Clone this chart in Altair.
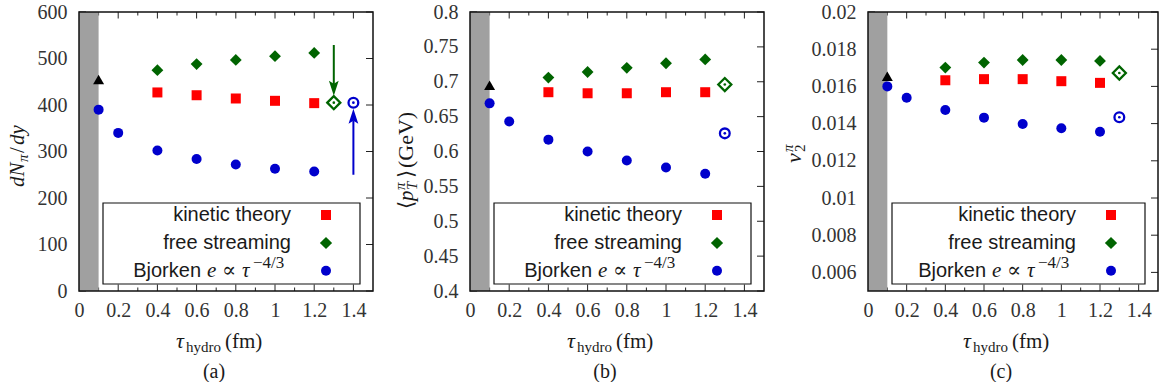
import altair as alt
import pandas as pd

# ---------------- data ----------------
tau_kt = [0.4, 0.6, 0.8, 1.0, 1.2]
tau_fs = [0.4, 0.6, 0.8, 1.0, 1.2]
tau_bj = [0.1, 0.2, 0.4, 0.6, 0.8, 1.0, 1.2]
tau_init = [0.1]
band = [0.0, 0.1]

# (a) dN/dy
a_kt = [427, 421, 414, 409, 404]
a_fs = [475, 488, 497, 505, 512]
a_bj = [390, 340, 302, 284, 272, 263, 257]
a_init = [455]
a_open_fs = (1.3, 405)
a_open_bj = (1.4, 405)
a_arrow_fs = (1.3, 529, 420)   # x, start, tip
a_arrow_bj = (1.4, 250, 392)

# (b) <pT>
b_kt = [0.685, 0.6835, 0.6835, 0.685, 0.685]
b_fs = [0.706, 0.714, 0.720, 0.7265, 0.732]
b_bj = [0.669, 0.643, 0.617, 0.600, 0.587, 0.577, 0.568]
b_init = [0.695]
b_open_fs = (1.3, 0.696)
b_open_bj = (1.3, 0.626)

# (c) v2
c_kt = [0.01633, 0.01639, 0.01639, 0.01628, 0.01619]
c_fs = [0.01701, 0.01728, 0.01742, 0.01742, 0.01737]
c_bj = [0.0160, 0.01539, 0.01473, 0.01432, 0.01398, 0.01375, 0.01356]
c_init = [0.01654]
c_open_fs = (1.3, 0.01672)
c_open_bj = (1.3, 0.01434)

x_ticks = [0, 0.2, 0.4, 0.6, 0.8, 1, 1.2, 1.4]
x_major_in = [0.2, 0.4, 0.6, 0.8, 1.0, 1.2, 1.4]
x_minor_in = [0.1, 0.3, 0.5, 0.7, 0.9, 1.1, 1.3]
a_yticks = [0, 100, 200, 300, 400, 500, 600]
b_yticks = [0.4, 0.45, 0.5, 0.55, 0.6, 0.65, 0.7, 0.75, 0.8]
c_yticks = [0.006, 0.008, 0.01, 0.012, 0.014, 0.016, 0.018, 0.02]

legend_labels = ["kinetic theory", "free streaming", "Bjorken"]

# ---------------- style ----------------
SERIF = "Liberation Serif, DejaVu Serif, serif"
SANS = "Liberation Sans, Arial, sans-serif"
TXT = "#1a1a1a"
LAB = "#333333"
RED = "#ff0000"
GREEN = "#006400"
BLUE = "#0000cc"
GREY = "#a0a0a0"
H = 279

ARROW_DOWN = "M0,0L-0.65,-2L0,-1.6L0.65,-2Z"
ARROW_UP = "M0,0L-0.65,2L0,1.6L0.65,2Z"


def dummy():
    return pd.DataFrame({"d": [0]})


def txt(t, x, y, size, font=SERIF, style="normal", align="left", angle=0,
        baseline="alphabetic", color=TXT):
    return alt.Chart(dummy()).mark_text(
        text=t, font=font, fontStyle=style, fontSize=size, align=align,
        baseline=baseline, angle=angle, color=color
    ).encode(x=alt.value(x), y=alt.value(y))


def make_panel(W, ydom, yticks, yfmt, kt, fs, bj, init, open_fs, open_bj,
               ytitle, label, E, arrows=None):
    xs = alt.Scale(domain=[0, 1.5], nice=False, zero=False)
    ys = alt.Scale(domain=ydom, nice=False, zero=False)
    xaxis = alt.Axis(values=x_ticks, format="~g", ticks=False, tickSize=0,
                     domain=False, grid=False, labelFont=SERIF,
                     labelFontSize=20, labelColor=LAB, labelPadding=9,
                     title=None, labelFlush=False, labelOverlap=False)
    yaxis = alt.Axis(values=yticks, format=yfmt, ticks=False, tickSize=0,
                     domain=False, grid=False, labelFont=SERIF,
                     labelFontSize=20, labelColor=LAB, labelPadding=12,
                     title=None, labelFlush=False, labelOverlap=False)
    X = lambda f: alt.X(f, scale=xs, axis=xaxis)
    Y = lambda f: alt.Y(f, scale=ys, axis=yaxis)

    def pts(xv, yv):
        return pd.DataFrame({"tau": xv, "v": yv})

    layers = []
    # ticks (inward)
    tick_c = "#222"
    yt = pd.DataFrame({"v": yticks})
    layers.append(alt.Chart(yt).mark_rule(color=tick_c, strokeWidth=1).encode(
        y=Y("v:Q"), x=alt.value(0), x2=alt.value(7)))
    layers.append(alt.Chart(yt).mark_rule(color=tick_c, strokeWidth=1).encode(
        y=Y("v:Q"), x=alt.value(W - 7), x2=alt.value(W)))
    xm = pd.DataFrame({"v": x_major_in})
    xn = pd.DataFrame({"v": x_minor_in})
    for dfx, ln in ((xm, 6.5), (xn, 3.5)):
        layers.append(alt.Chart(dfx).mark_rule(color=tick_c, strokeWidth=1).encode(
            x=X("v:Q"), y=alt.value(H), y2=alt.value(H - ln)))
        layers.append(alt.Chart(dfx).mark_rule(color=tick_c, strokeWidth=1).encode(
            x=X("v:Q"), y=alt.value(0), y2=alt.value(ln)))
    # grey band
    layers.append(alt.Chart(pd.DataFrame({"x0": [band[0]], "x1": [band[1]]}))
                  .mark_rect(color=GREY, opacity=1).encode(
        x=X("x0:Q"), x2="x1:Q", y=alt.value(0), y2=alt.value(H)))
    # legend box
    layers.append(alt.Chart(dummy()).mark_rect(
        fill="white", stroke="#111", strokeWidth=1.2).encode(
        x=alt.value(24), x2=alt.value(W - 13), y=alt.value(191), y2=alt.value(272)))
    # arrows
    if arrows:
        for (ax, a0, a1), col in arrows:
            down = a0 > a1
            off = (a0 - a1)
            frac = 0.18
            lend = a1 + off * frac
            layers.append(alt.Chart(pd.DataFrame({"tau": [ax], "v": [a0], "v2": [lend]}))
                          .mark_rule(color=col, strokeWidth=2).encode(
                x=X("tau:Q"), y=Y("v:Q"), y2="v2:Q"))
            layers.append(alt.Chart(pts([ax], [a1])).mark_point(
                shape=ARROW_DOWN if down else ARROW_UP, filled=True, size=225,
                color=col, opacity=1, strokeWidth=0).encode(x=X("tau:Q"), y=Y("v:Q")))
    # data series
    layers.append(alt.Chart(pts(tau_bj, bj)).mark_point(
        shape="circle", filled=True, size=100, color=BLUE, opacity=1, strokeWidth=0
    ).encode(x=X("tau:Q"), y=Y("v:Q")))
    layers.append(alt.Chart(pts(tau_kt, kt)).mark_point(
        shape="square", filled=True, size=100, color=RED, opacity=1, strokeWidth=0
    ).encode(x=X("tau:Q"), y=Y("v:Q")))
    layers.append(alt.Chart(pts(tau_fs, fs)).mark_point(
        shape="diamond", filled=True, size=140, color=GREEN, opacity=1, strokeWidth=0
    ).encode(x=X("tau:Q"), y=Y("v:Q")))
    layers.append(alt.Chart(pts(tau_init, init)).mark_point(
        shape="triangle-up", filled=True, size=120, color="black", opacity=1, strokeWidth=0
    ).encode(x=X("tau:Q"), y=Y("v:Q")))
    # open markers
    layers.append(alt.Chart(pts([open_fs[0]], [open_fs[1]])).mark_point(
        shape="diamond", filled=False, size=170, color=GREEN, opacity=1, strokeWidth=2.3
    ).encode(x=X("tau:Q"), y=Y("v:Q")))
    layers.append(alt.Chart(pts([open_bj[0]], [open_bj[1]])).mark_point(
        shape="circle", filled=False, size=95, color=BLUE, opacity=1, strokeWidth=2.3
    ).encode(x=X("tau:Q"), y=Y("v:Q")))
    layers.append(alt.Chart(pts([open_fs[0]], [open_fs[1]])).mark_point(
        shape="circle", filled=True, size=7, color=GREEN, opacity=1, strokeWidth=0
    ).encode(x=X("tau:Q"), y=Y("v:Q")))
    layers.append(alt.Chart(pts([open_bj[0]], [open_bj[1]])).mark_point(
        shape="circle", filled=True, size=7, color=BLUE, opacity=1, strokeWidth=0
    ).encode(x=X("tau:Q"), y=Y("v:Q")))

    # legend entries
    R = W - 82
    MX = W - 47
    rows = [203, 231, 258.7]
    layers.append(txt(legend_labels[0], R, rows[0], 20, font=SANS, align="right",
                      baseline="middle"))
    layers.append(txt(legend_labels[1], R, rows[1], 20, font=SANS, align="right",
                      baseline="middle"))
    layers.append(txt(legend_labels[2], R - 90, rows[2], 20, font=SANS, align="right",
                      baseline="middle"))
    layers.append(txt("e", R - 84, rows[2], 21, style="italic", baseline="middle"))
    layers.append(txt("\u221d", R - 69, rows[2], 21, baseline="middle"))
    layers.append(txt("\u03c4", R - 49, rows[2], 21, style="italic", baseline="middle"))
    layers.append(txt("\u22124/3", R - 38, rows[2] - 8, 17, baseline="middle"))
    for (shape, col, sz), ry in zip((("square", RED, 100), ("diamond", GREEN, 150),
                                     ("circle", BLUE, 100)), rows):
        layers.append(alt.Chart(dummy()).mark_point(
            shape=shape, filled=True, size=sz, color=col, opacity=1, strokeWidth=0
        ).encode(x=alt.value(MX), y=alt.value(ry)))

    # frame on top
    layers.append(alt.Chart(dummy()).mark_rect(
        fillOpacity=0, stroke="#111", strokeWidth=1.5).encode(
        x=alt.value(0), x2=alt.value(W), y=alt.value(0), y2=alt.value(H)))

    # y title pieces (rotated)
    for (t, x, y, s, st) in ytitle:
        layers.append(txt(t, x, y, s, style=st, angle=270))
    # x title
    bx = W / 2 - 50
    layers.append(txt("\u03c4", bx, 336, 22, style="italic"))
    layers.append(txt("hydro", bx + 10, 340, 15))
    layers.append(txt("(fm)", bx + 49, 336, 21))
    layers.append(txt(label, W / 2 - 12, 366, 20, align="center"))

    # invisible bounds marker (fixes left / top extent)
    layers.append(alt.Chart(dummy()).mark_rule(opacity=0, strokeWidth=1).encode(
        x=alt.value(-E + 0.5), y=alt.value(-11.5), y2=alt.value(-2)))

    return alt.layer(*layers).properties(width=W, height=H)


a_title = [("dN", -55, 175, 21, "italic"), ("\u03c0", -51, 150, 15, "italic"),
           ("/", -55, 141, 21, "normal"), ("dy", -55, 133, 21, "italic")]
b_title = [("\u27e8", -57, 197, 21, "normal"), ("p", -57, 189, 21, "italic"),
           ("T", -53, 178, 15, "italic"), ("\u03c0", -65, 178, 15, "italic"),
           ("\u27e9", -57, 166, 21, "normal"), ("(GeV)", -57, 156, 22, "normal")]
c_title = [("v", -67, 151, 22, "italic"), ("2", -63, 140, 15, "normal"),
           ("\u03c0", -75, 140, 15, "italic")]

pa = make_panel(294, [0, 600], a_yticks, "d", a_kt, a_fs, a_bj, a_init, a_open_fs,
                a_open_bj, a_title, "(a)", 75,
                arrows=[(a_arrow_fs, GREEN), (a_arrow_bj, BLUE)])
pb = make_panel(294, [0.4, 0.8], b_yticks, "~g", b_kt, b_fs, b_bj, b_init, b_open_fs,
                b_open_bj, b_title, "(b)", 86)
pc = make_panel(290, [0.005, 0.02], c_yticks, "~g", c_kt, c_fs, c_bj, c_init, c_open_fs,
                c_open_bj, c_title, "(c)", 93)

chart = alt.hconcat(pa, pb, pc, spacing=10).properties(
    padding={"left": 4, "top": 0, "right": 0, "bottom": 0},
    background="white",
).configure_view(stroke=None)

chart.save("out.html", embed_options={"renderer": "svg", "actions": False})
